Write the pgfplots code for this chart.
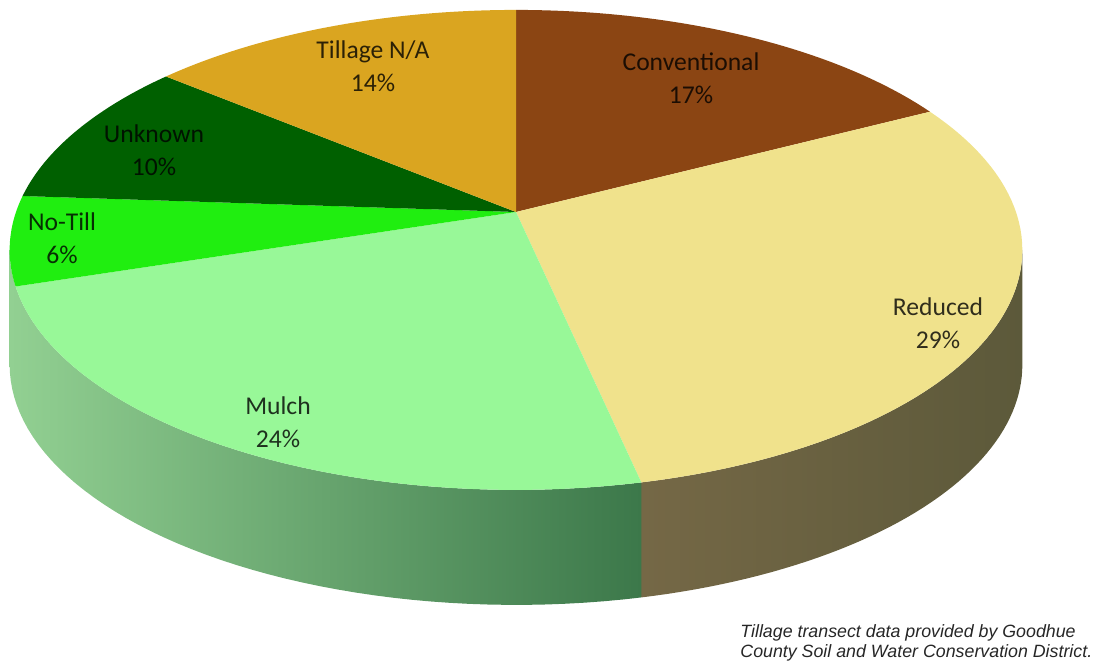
\documentclass[border=0pt]{standalone}
\usepackage{fontspec}
\setmainfont{Carlito}
\newfontfamily\arialfont{Liberation Sans}
\usepackage{pgfplots}
\pgfplotsset{compat=1.18}
\definecolor{cConv}{HTML}{8B4513}
\definecolor{cRed}{HTML}{F0E28C}
\definecolor{cMul}{HTML}{98F898}
\definecolor{cNo}{HTML}{20EE10}
\definecolor{cUnk}{HTML}{006000}
\definecolor{cNA}{HTML}{DAA520}
\definecolor{sRedL}{HTML}{756846}
\definecolor{sRedR}{HTML}{5C593A}
\definecolor{sMulL}{HTML}{92D092}
\definecolor{sMulR}{HTML}{3C784A}
\definecolor{sNo}{HTML}{10B010}
% data (percent)
\def\vConv{17.4}
\def\vRed{29.2}
\def\vMul{23.5}
\def\vNo{6.0}
\def\vUnk{9.9}
\def\vNA{14.0}
\pgfmathsetmacro\aA{0}
\pgfmathsetmacro\aB{3.6*\vConv}
\pgfmathsetmacro\aC{\aB+3.6*\vRed}
\pgfmathsetmacro\aD{\aC+3.6*\vMul}
\pgfmathsetmacro\aE{\aD+3.6*\vNo}
\pgfmathsetmacro\aF{\aE+3.6*\vUnk}
\pgfmathsetmacro\aG{\aF+3.6*\vNA}
\pgfmathdeclarefunction{rimx}{1}{\pgfmathparse{516+500*sin(#1)/(1+0.158*cos(#1))}}
\pgfmathdeclarefunction{rimy}{1}{\pgfmathparse{212-234*cos(#1)/(1+0.158*cos(#1))}}
\newcommand\topslice[3]{%
\addplot[fill=#1, draw=none, domain=-1:60, samples=62, variable=\t]
 ({\t<-0.5 ? 516 : rimx(#2+(#3-#2)*max(\t,0)/60)},
  {\t<-0.5 ? 212 : rimy(#2+(#3-#2)*max(\t,0)/60)});}
\newcommand\sideslice[4]{%
\addplot[draw=none, left color=#1, right color=#2, domain=0:101, samples=102, variable=\t]
 ({rimx(#3+(#4-#3)*(\t<50.5 ? \t : 101-\t)/50)},
  {rimy(#3+(#4-#3)*(\t<50.5 ? \t : 101-\t)/50) + (\t<50.5 ? 0 : 115)});}
\begin{document}
\begin{tikzpicture}
\begin{axis}[width=549.5pt, height=331.5pt, scale only axis,
  xmin=0, xmax=1099, ymin=0, ymax=663, y dir=reverse,
  hide axis, clip=false]
\path (rel axis cs:0,0) rectangle (rel axis cs:1,1);
% sides
\sideslice{sRedL}{sRedR}{99.1}{\aC}
\sideslice{sMulL}{sMulR}{\aC}{260.9}
\sideslice{sNo}{sNo}{258.8}{260.9}
% tops
\topslice{cConv}{\aA}{\aB}
\topslice{cRed}{\aB}{\aC}
\topslice{cMul}{\aC}{\aD}
\topslice{cNo}{\aD}{\aE}
\topslice{cUnk}{\aE}{\aF}
\topslice{cNA}{\aF}{\aG}
% labels
\tikzset{lab/.style={align=center, text=black, text opacity=0.8, font=\fontsize{12.8}{16.5}\selectfont}}
\node[lab] at (axis cs:691,78.5) {Conventional\\17\%};
\node[lab] at (axis cs:938,323.5) {Reduced\\29\%};
\node[lab] at (axis cs:278,422) {Mulch\\24\%};
\node[lab] at (axis cs:62,238) {No-Till\\6\%};
\node[lab] at (axis cs:154,150) {Unknown\\10\%};
\node[lab] at (axis cs:373,66) {Tillage N/A\\14\%};
\node[anchor=north west, inner sep=0pt, align=left, text=black!85, font=\arialfont\itshape\fontsize{8.9}{10}\selectfont] at (axis cs:740,624) {Tillage transect data provided by Goodhue\\County Soil and Water Conservation District.};
\end{axis}
\end{tikzpicture}
\end{document}
